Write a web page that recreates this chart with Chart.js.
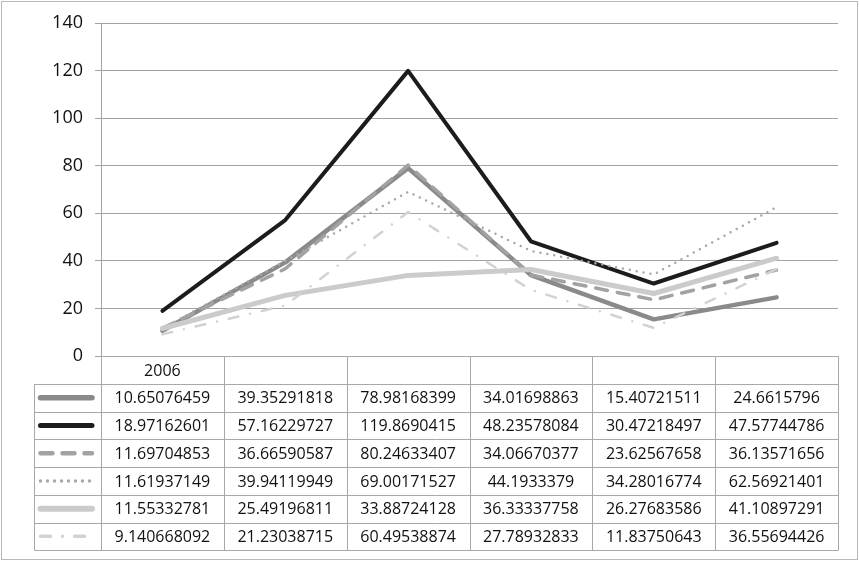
<!DOCTYPE html>
<html>
<head>
<meta charset="utf-8">
<script src="https://cdn.jsdelivr.net/npm/chart.js@4/dist/chart.umd.min.js"></script>
<style>
    html, body { margin: 0; padding: 0; background: #fff; }
    #wrap { width: 859px; height: 562px; position: relative; }
</style>
</head>
<body>
<div id="wrap"><canvas id="chart1" width="859" height="562"></canvas></div>
<script>
// categories: only the first column carries a label in the source
const categories = ['2006', '', '', '', '', ''];

const series1 = [10.65076459, 39.35291818, 78.98168399, 34.01698863, 15.40721511, 24.6615796];
const series2 = [18.97162601, 57.16229727, 119.8690415, 48.23578084, 30.47218497, 47.57744786];
const series3 = [11.69704853, 36.66590587, 80.24633407, 34.06670377, 23.62567658, 36.13571656];
const series4 = [11.61937149, 39.94119949, 69.00171527, 44.1933379, 34.28016774, 62.56921401];
const series5 = [11.55332781, 25.49196811, 33.88724128, 36.33337758, 26.27683586, 41.10897291];
const series6 = [9.140668092, 21.23038715, 60.49538874, 27.78932833, 11.83750643, 36.55694426];

// text shown in the table cells, as printed in the source
const tableText = [
    ['10.65076459', '39.35291818', '78.98168399', '34.01698863', '15.40721511', '24.6615796'],
    ['18.97162601', '57.16229727', '119.8690415', '48.23578084', '30.47218497', '47.57744786'],
    ['11.69704853', '36.66590587', '80.24633407', '34.06670377', '23.62567658', '36.13571656'],
    ['11.61937149', '39.94119949', '69.00171527', '44.1933379', '34.28016774', '62.56921401'],
    ['11.55332781', '25.49196811', '33.88724128', '36.33337758', '26.27683586', '41.10897291'],
    ['9.140668092', '21.23038715', '60.49538874', '27.78932833', '11.83750643', '36.55694426']
];

const yTicks = { min: 0, max: 140, step: 20 };

const lineStyles = [
    { color: '#8a8a8a', width: 4.5, dash: [] },
    { color: '#1c1c1c', width: 4, dash: [] },
    { color: '#a2a2a2', width: 3.5, dash: [12, 10] },
    { color: '#a8a8a8', width: 2.5, dash: [0, 7] },
    { color: '#cbcbcb', width: 5, dash: [] },
    { color: '#d2d2d2', width: 2.5, dash: [10, 12, 0, 12] }
];

const allSeries = [series1, series2, series3, series4, series5, series6];

const FONT = '"Open Sans", "DejaVu Sans", sans-serif';
const GRID = '#a3a3a3';
const TABLE_LINE = '#a8a8a8';

const datasets = allSeries.map((data, i) => ({
    label: 'Series ' + (i + 1),
    data: data,
    borderColor: lineStyles[i].color,
    borderWidth: lineStyles[i].width,
    borderDash: lineStyles[i].dash,
    borderCapStyle: 'round',
    borderJoinStyle: 'round',
    pointRadius: 0,
    tension: 0,
    fill: false,
    order: allSeries.length - i
}));

// data table drawn under the plot, columns taken from the x scale
const dataTable = {
    id: 'dataTable',
    afterDraw(chart) {
        const ctx = chart.ctx;
        const x = chart.scales.x;
        const area = chart.chartArea;
        const n = categories.length;
        const step = (area.right - area.left) / n;
        const headTop = area.bottom;
        const headH = 28;
        const rowH = 27.7;
        const legendLeft = 34.5;
        const bodyTop = headTop + headH;
        const bodyBottom = bodyTop + rowH * allSeries.length;

        ctx.save();
        ctx.strokeStyle = TABLE_LINE;
        ctx.lineWidth = 1;
        ctx.setLineDash([]);
        ctx.beginPath();
        // vertical lines
        for (let c = 0; c <= n; c++) {
            const px = Math.round(area.left + c * step) + 0.5;
            ctx.moveTo(px, headTop);
            ctx.lineTo(px, bodyBottom);
        }
        ctx.moveTo(legendLeft, bodyTop);
        ctx.lineTo(legendLeft, bodyBottom);
        // horizontal lines
        ctx.moveTo(area.left, Math.round(headTop) + 0.5);
        ctx.lineTo(area.right, Math.round(headTop) + 0.5);
        for (let r = 0; r <= allSeries.length; r++) {
            const py = Math.round(bodyTop + r * rowH) + 0.5;
            ctx.moveTo(legendLeft, py);
            ctx.lineTo(Math.round(area.right) + 0.5, py);
        }
        ctx.stroke();

        ctx.fillStyle = '#111';
        ctx.font = '16px ' + FONT;
        ctx.textAlign = 'center';
        ctx.textBaseline = 'middle';
        categories.forEach((c, i) => {
            ctx.fillText(c, x.getPixelForValue(i), headTop + headH / 2 + 1);
        });
        tableText.forEach((row, r) => {
            const cy = bodyTop + r * rowH + rowH / 2 + 1;
            row.forEach((t, i) => {
                ctx.fillText(t, x.getPixelForValue(i), cy);
            });
            // legend swatch
            const st = lineStyles[r];
            ctx.strokeStyle = st.color;
            ctx.lineWidth = st.width + 1;
            ctx.lineCap = 'round';
            ctx.setLineDash(st.dash);
            ctx.beginPath();
            ctx.moveTo(legendLeft + 6, cy - 1);
            ctx.lineTo(area.left - 9, cy - 1);
            ctx.stroke();
            ctx.setLineDash([]);
        });

        // outer frame
        ctx.strokeStyle = '#b8b8b8';
        ctx.lineWidth = 1;
        ctx.strokeRect(1.5, 1.5, chart.width - 3, chart.height - 4);
        ctx.restore();
    }
};

const ctx1 = document.getElementById('chart1').getContext('2d');
const chart = new Chart(ctx1, {
    type: 'line',
    data: {
        labels: categories,
        datasets: datasets
    },
    options: {
        responsive: false,
        animation: false,
        layout: {
            padding: { top: 23, right: 21, bottom: 206, left: 0 }
        },
        plugins: {
            legend: { display: false },
            tooltip: { enabled: false }
        },
        scales: {
            x: {
                display: false,
                offset: true
            },
            y: {
                min: yTicks.min,
                max: yTicks.max,
                afterFit(scale) { scale.width = 101; },
                ticks: {
                    stepSize: yTicks.step,
                    color: '#111',
                    padding: 12,
                    font: { family: FONT, size: 18 }
                },
                grid: {
                    color: GRID,
                    tickColor: GRID,
                    tickLength: 6,
                    drawTicks: true
                },
                border: { color: GRID }
            }
        }
    },
    plugins: [dataTable]
});
</script>
</body>
</html>
